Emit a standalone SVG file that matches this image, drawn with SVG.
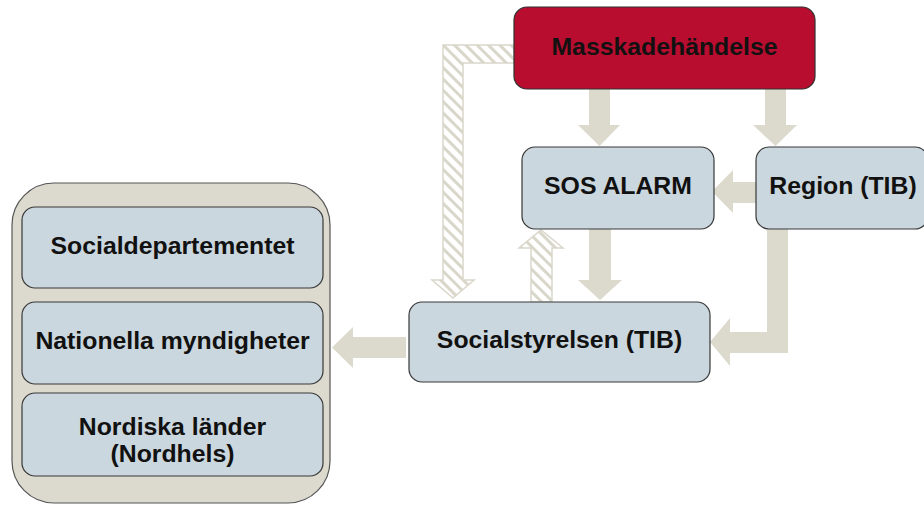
<svg xmlns="http://www.w3.org/2000/svg" width="924" height="505" viewBox="0 0 924 505">
<defs>
<pattern id="hatch" patternUnits="userSpaceOnUse" width="8" height="8" patternTransform="rotate(-45)">
<rect x="0" y="0" width="8" height="8" fill="#ffffff"/>
<rect x="0" y="0" width="3" height="8" fill="#D9D6CA"/>
</pattern>
</defs>
<style>
.node{fill:#CBD7DE;stroke:#383838;stroke-width:1.2}
.red{fill:#B80D2F;stroke:#303030;stroke-width:1.2}
.cont{fill:#DCD9CE;stroke:#555555;stroke-width:1.2}
.lbl{font-family:"Liberation Sans",Arial,sans-serif;font-weight:bold;font-size:24.8px;fill:#111111;text-anchor:middle}
.solid{fill:#DCD9CD;stroke:none}
.hatched{fill:url(#hatch);stroke:#D9D6CA;stroke-width:1.5}
</style>
<rect width="924" height="505" fill="#ffffff"/>
<g id="connectors">
<polygon class="hatched" points="514,45 443,45 443,280 432,280 453,298 474,280 463,280 463,63 514,63"/>
<polygon class="hatched" points="531,302 531,248 519,248 541,230 563,248 552,248 552,302"/>
<polygon class="solid" points="589,89 610,89 610,125 620,125 599.5,146 578,125 589,125"/>
<polygon class="solid" points="765,89 786,89 786,125 797,125 775.5,146 753,125 765,125"/>
<polygon class="solid" points="756,182 733,182 733,170 712,191.5 733,213 733,203 756,203"/>
<polygon class="solid" points="589,229 611,229 611,280 622,280 600,300 578,280 589,280"/>
<polygon class="solid" points="767,229 788,229 788,353 730,353 730,366 710,342 730,318 730,332 767,332"/>
<polygon class="solid" points="406,337 353,337 353,327 332,347.5 353,368 353,358 406,358"/>
</g>
<g id="masskade">
<rect class="red" x="514" y="7" width="301" height="82" rx="13"/>
<text class="lbl" x="664.5" y="55">Masskadehändelse</text>
</g>
<g id="sosalarm">
<rect class="node" x="522" y="147" width="192" height="82" rx="13"/>
<text class="lbl" x="618" y="194">SOS ALARM</text>
</g>
<g id="region">
<rect class="node" x="756" y="147" width="172" height="82" rx="13"/>
<text class="lbl" x="843" y="194">Region (TIB)</text>
</g>
<g id="socialstyrelsen">
<rect class="node" x="409" y="302" width="301" height="80" rx="13"/>
<text class="lbl" x="559.5" y="348">Socialstyrelsen (TIB)</text>
</g>
<g id="container">
<rect class="cont" x="12" y="183" width="318" height="320" rx="42"/>
</g>
<g id="socialdep">
<rect class="node" x="22" y="207" width="301" height="81" rx="13"/>
<text class="lbl" x="172.5" y="254">Socialdepartementet</text>
</g>
<g id="nationella">
<rect class="node" x="22" y="302" width="301" height="82" rx="13"/>
<text class="lbl" x="172.5" y="349">Nationella myndigheter</text>
</g>
<g id="nordiska">
<rect class="node" x="22" y="393" width="301" height="83" rx="13"/>
<text class="lbl" x="172.5" y="435">Nordiska länder</text>
<text class="lbl" x="172.5" y="462">(Nordhels)</text>
</g>
</svg>
